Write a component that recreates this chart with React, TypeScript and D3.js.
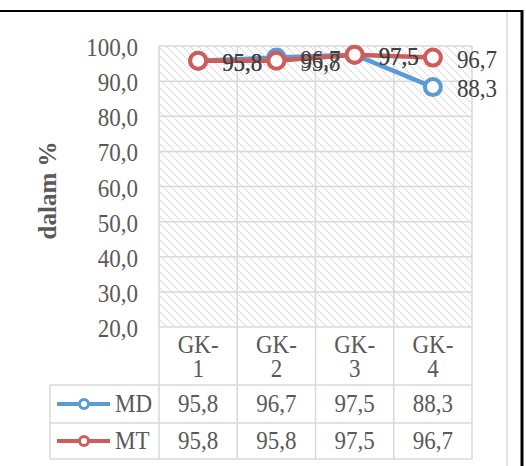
import React, { useRef, useEffect } from 'react';
import * as d3 from 'd3';

const categories = ['GK-1', 'GK-2', 'GK-3', 'GK-4'];
const mdValues = [95.8, 96.7, 97.5, 88.3];
const mtValues = [95.8, 95.8, 97.5, 96.7];
const yTicks = [20, 30, 40, 50, 60, 70, 80, 90, 100];

const series = [
  { name: 'MD', values: mdValues, color: '#5B9BD5' },
  { name: 'MT', values: mtValues, color: '#CF5C58' },
];

const fmt = (v: number) => v.toFixed(1).replace('.', ',');

const App: React.FC = () => {
  const svgRef = useRef<SVGSVGElement>(null);
  const width = 526;
  const height = 466;

  useEffect(() => {
    if (!svgRef.current) return;
    const svg = d3.select(svgRef.current);
    svg.selectAll('*').remove();

    const font = '"Liberation Serif", "Times New Roman", serif';
    const grid = '#d9d9d9';
    const plot = { left: 159, right: 472, top: 46, bottom: 327 };
    const tableLeft = 50;
    const rows = [327, 385, 423, 459];

    const x = d3.scaleBand().domain(categories).range([plot.left, plot.right]);
    const y = d3.scaleLinear().domain([20, 100]).range([plot.bottom, plot.top]);

    // text is slightly taller than wide in the original raster
    const txt = (px: number, py: number, s: string, anchor = 'start', fill = '#595959') =>
      svg.append('text')
        .attr('transform', `translate(${px},${py}) scale(1,1.08)`)
        .attr('text-anchor', anchor)
        .attr('font-family', font).attr('font-size', 23).attr('fill', fill)
        .text(s);

    // hatch pattern
    const defs = svg.append('defs');
    const pat = defs.append('pattern')
      .attr('id', 'hatch')
      .attr('patternUnits', 'userSpaceOnUse')
      .attr('width', 8)
      .attr('height', 8);
    pat.append('path')
      .attr('d', 'M-2,-2 L10,10 M-2,6 L2,10 M6,-2 L10,2')
      .attr('stroke', '#e0e0e0')
      .attr('stroke-width', 1.6)
      .attr('stroke-dasharray', '2,1');

    // frame lines
    svg.append('line').attr('x1', 0).attr('x2', 523).attr('y1', 11).attr('y2', 11)
      .attr('stroke', '#000').attr('stroke-width', 2);
    svg.append('line').attr('x1', 522).attr('x2', 522).attr('y1', 10).attr('y2', height)
      .attr('stroke', '#000').attr('stroke-width', 3);
    svg.append('line').attr('x1', 507).attr('x2', 507).attr('y1', 12).attr('y2', height)
      .attr('stroke', grid).attr('stroke-width', 1.5);

    svg.append('rect')
      .attr('x', plot.left).attr('y', plot.top)
      .attr('width', plot.right - plot.left).attr('height', plot.bottom - plot.top)
      .attr('fill', 'url(#hatch)');

    // horizontal gridlines
    svg.append('g').selectAll('line').data(yTicks).enter().append('line')
      .attr('x1', plot.left).attr('x2', plot.right)
      .attr('y1', d => y(d)).attr('y2', d => y(d))
      .attr('stroke', grid).attr('stroke-width', 1.5);

    // vertical gridlines through plot and table
    const bounds = [...categories.map(c => x(c) as number), plot.right];
    svg.append('g').selectAll('line').data(bounds).enter().append('line')
      .attr('x1', d => d).attr('x2', d => d)
      .attr('y1', plot.top).attr('y2', rows[3])
      .attr('stroke', grid).attr('stroke-width', 1.5);

    // table lines
    svg.append('line').attr('x1', tableLeft).attr('x2', tableLeft)
      .attr('y1', rows[1]).attr('y2', rows[3]).attr('stroke', grid).attr('stroke-width', 1.5);
    [rows[1], rows[2], rows[3]].forEach(r => {
      svg.append('line').attr('x1', tableLeft).attr('x2', plot.right)
        .attr('y1', r).attr('y2', r).attr('stroke', grid).attr('stroke-width', 1.5);
    });

    // y tick labels
    yTicks.forEach(t => txt(138, y(t) + 10, fmt(t), 'end'));

    // y title
    svg.append('text')
      .attr('transform', `translate(56, ${(plot.top + plot.bottom) / 2 + 4}) rotate(-90)`)
      .attr('text-anchor', 'middle')
      .attr('font-family', font).attr('font-size', 25).attr('font-weight', 'bold')
      .attr('fill', '#595959')
      .text('dalam %');

    // category labels
    const cx = (c: string) => (x(c) as number) + x.bandwidth() / 2;
    categories.forEach(c => {
      const [a, b] = c.split('-');
      txt(cx(c), 353, a + '-', 'middle');
      txt(cx(c), 377, b, 'middle');
    });

    // lines & markers
    const line = d3.line<number>()
      .x((_, i) => cx(categories[i]))
      .y(d => y(d));

    series.forEach(s => {
      svg.append('path').datum(s.values)
        .attr('d', line)
        .attr('fill', 'none').attr('stroke', s.color).attr('stroke-width', 4.5)
        .attr('stroke-linejoin', 'round');
      svg.append('g').selectAll('circle').data(s.values).enter().append('circle')
        .attr('cx', (_, i) => cx(categories[i])).attr('cy', d => y(d))
        .attr('r', 8).attr('fill', '#fff')
        .attr('stroke', s.color).attr('stroke-width', 4);
    });

    // data labels
    series.forEach(s => {
      s.values.forEach((v, i) => txt(cx(categories[i]) + 24, y(v) + 10, fmt(v), 'start', '#404040'));
    });

    // table rows
    series.forEach((s, k) => {
      const top = rows[k + 1];
      const mid = (top + rows[k + 2]) / 2;
      svg.append('line').attr('x1', 57).attr('x2', 110).attr('y1', mid).attr('y2', mid)
        .attr('stroke', s.color).attr('stroke-width', 4);
      svg.append('circle').attr('cx', 84).attr('cy', mid).attr('r', 4.5)
        .attr('fill', '#fff').attr('stroke', s.color).attr('stroke-width', 3);
      txt(115, mid + 8, s.name);
      s.values.forEach((v, i) => txt(cx(categories[i]), mid + 8, fmt(v), 'middle'));
    });
  }, []);

  return (
    <svg
      ref={svgRef}
      width={width}
      height={height}
      style={{ position: 'absolute', left: 0, top: 0, background: '#fff' }}
    />
  );
};

export default App;
